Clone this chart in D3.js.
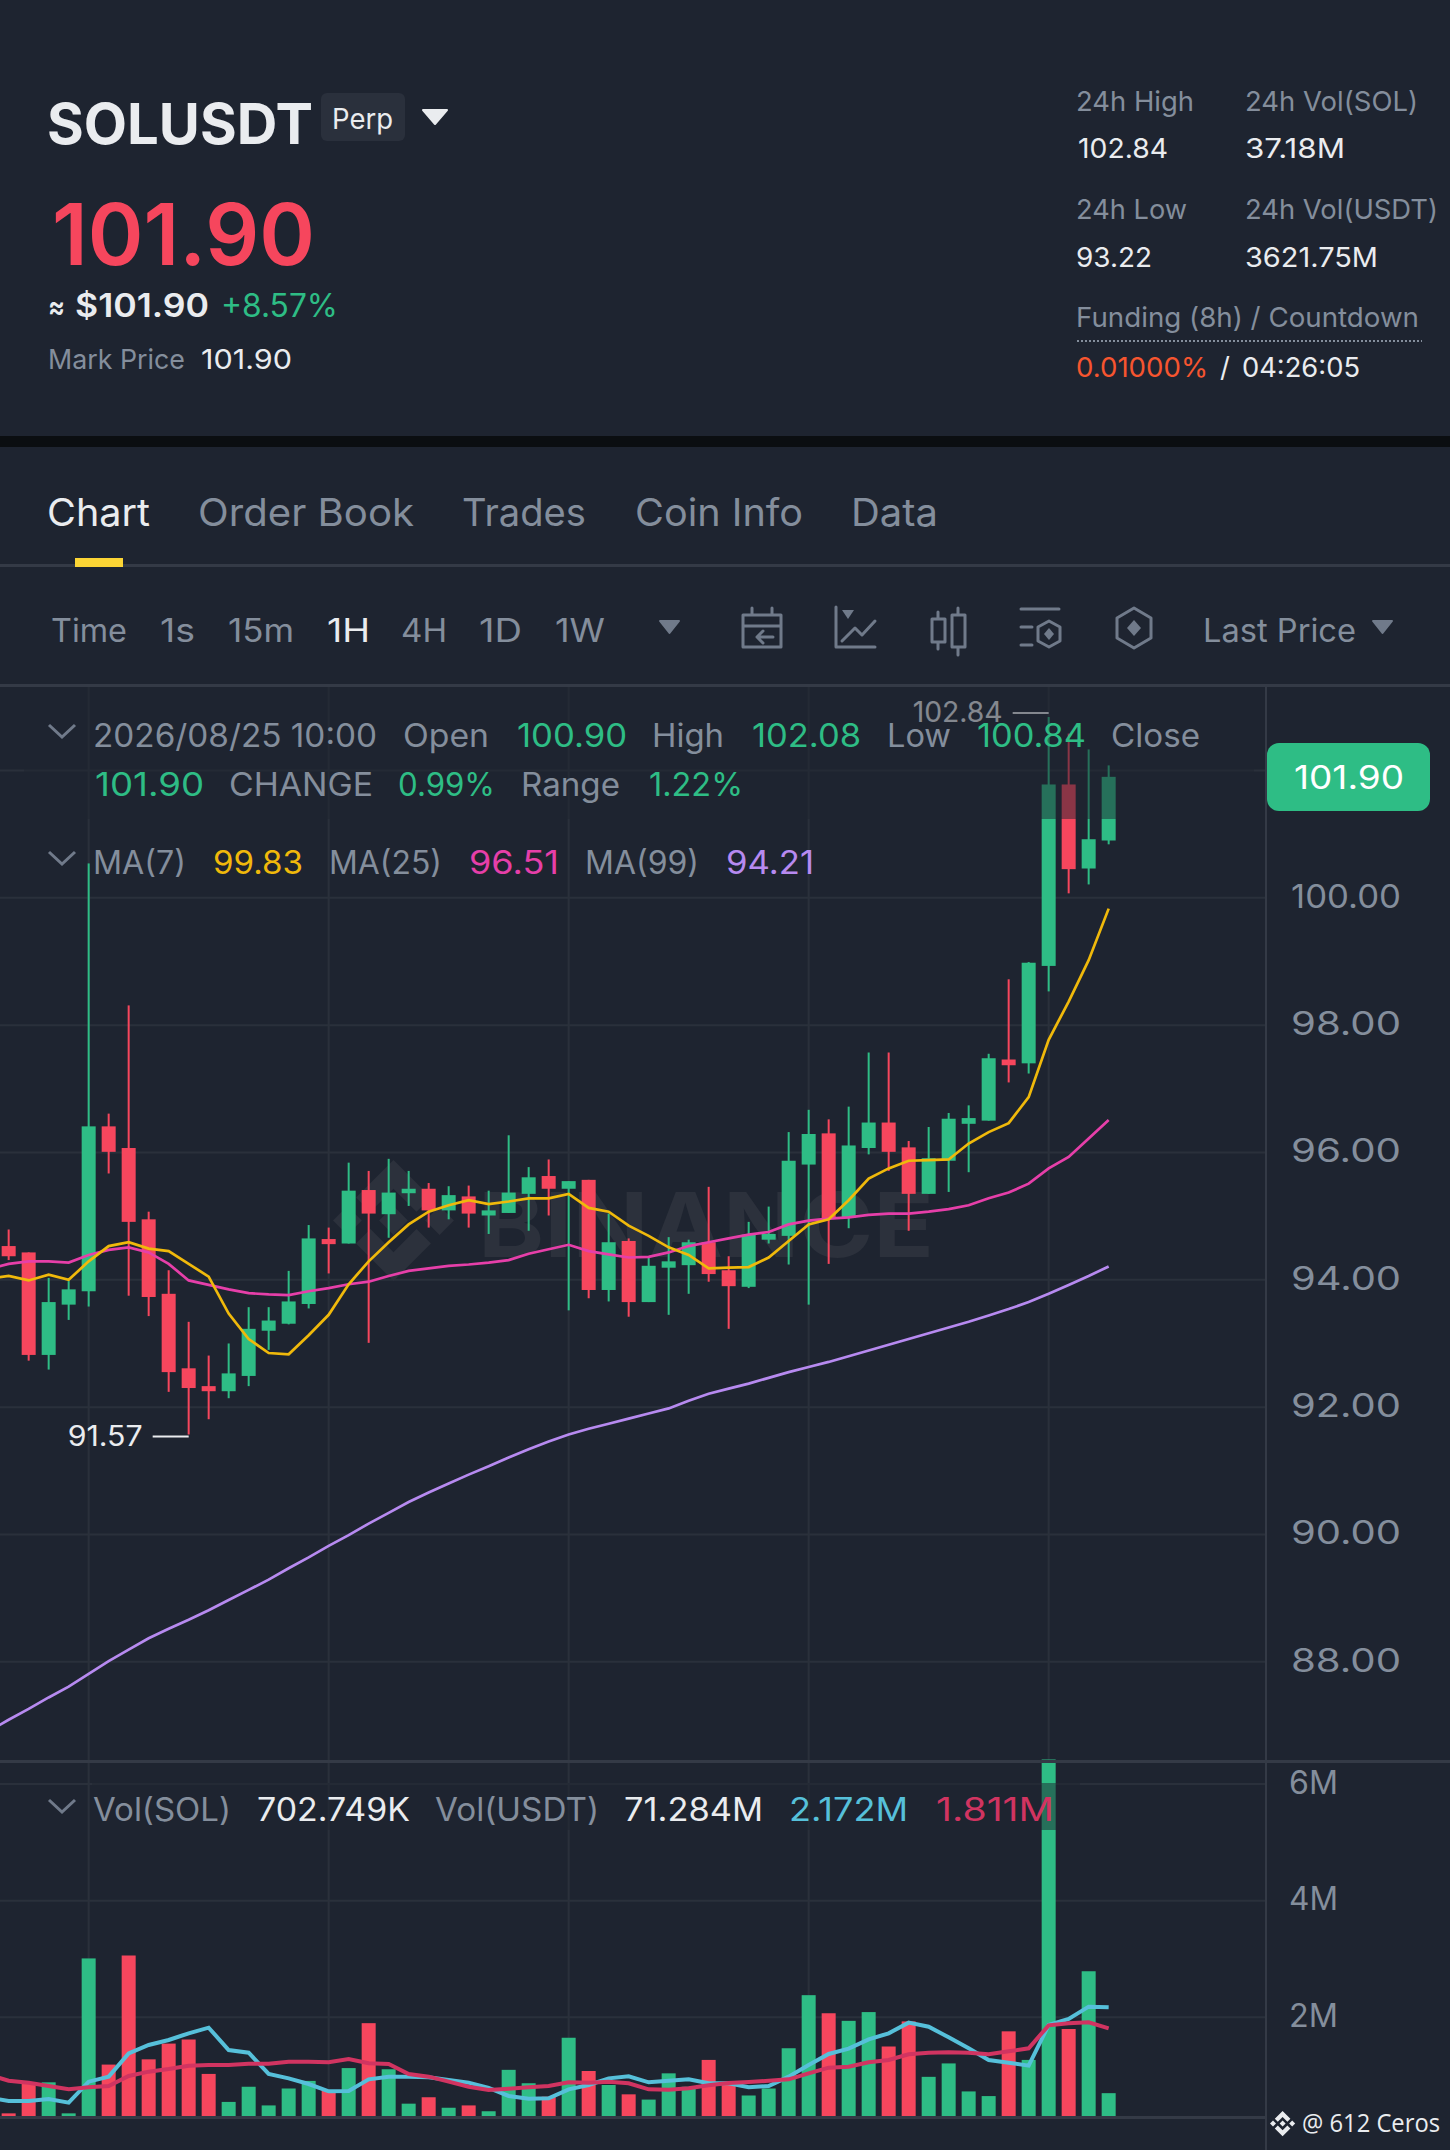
<!DOCTYPE html>
<html>
<head>
<meta charset="utf-8">
<style>
  html, body { margin: 0; padding: 0; background: #1e2430; }
  svg { display: block; font-family: Inter, Lato, sans-serif; }
</style>
<script src="https://cdn.jsdelivr.net/npm/d3@7"></script>
</head>
<body>
<svg width="1450" height="2150"></svg>
<script>
// candles, left to right
const opens = [94.53, 94.43, 92.82, 93.61, 93.82, 96.41, 96.07, 94.95, 93.78, 92.61, 92.33, 92.25, 92.49, 93.20, 93.31, 93.62, 94.64, 94.57, 95.41, 95.03, 95.36, 95.43, 95.09, 95.31, 95.01, 95.05, 95.35, 95.63, 95.43, 95.57, 93.84, 94.61, 93.65, 94.19, 94.23, 94.59, 94.15, 93.89, 94.63, 94.69, 95.81, 96.30, 94.97, 96.07, 96.47, 96.08, 95.35, 95.87, 96.45, 96.50, 97.46, 97.40, 98.93, 101.78, 100.46, 100.90]
const highs = [94.79, 94.43, 94.03, 93.98, 100.54, 96.61, 98.31, 95.07, 94.15, 93.34, 92.81, 93.00, 93.57, 93.57, 94.14, 94.86, 94.82, 95.84, 95.71, 95.90, 95.71, 95.52, 95.47, 95.48, 95.40, 96.27, 95.77, 95.89, 95.55, 95.57, 95.04, 94.65, 94.35, 94.67, 94.63, 95.46, 94.37, 94.91, 95.15, 96.32, 96.67, 96.52, 96.72, 97.57, 97.57, 96.18, 96.40, 96.62, 96.74, 97.55, 98.72, 98.99, 102.84, 102.58, 102.33, 102.08]
const lows = [94.31, 92.73, 92.59, 93.37, 93.58, 95.67, 93.75, 93.43, 92.24, 91.57, 91.81, 92.14, 92.33, 92.90, 93.30, 93.55, 94.10, 94.57, 93.01, 94.66, 95.16, 94.82, 94.95, 94.82, 94.72, 95.05, 94.77, 95.01, 93.52, 93.71, 93.66, 93.42, 93.65, 93.45, 93.78, 93.97, 93.23, 93.87, 94.57, 94.24, 93.61, 94.25, 94.81, 95.97, 95.71, 94.77, 95.35, 95.38, 95.69, 96.50, 97.10, 97.24, 98.53, 100.07, 100.21, 100.84]
const closes = [94.37, 92.82, 93.65, 93.85, 96.41, 96.01, 94.91, 93.73, 92.55, 92.30, 92.25, 92.53, 93.23, 93.36, 93.66, 94.65, 94.56, 95.40, 95.04, 95.37, 95.43, 95.09, 95.33, 95.04, 95.09, 95.37, 95.61, 95.43, 95.55, 93.84, 94.59, 93.65, 94.22, 94.29, 94.59, 94.09, 93.90, 94.71, 94.72, 95.87, 96.29, 94.97, 96.11, 96.47, 96.01, 95.35, 95.91, 96.53, 96.54, 97.48, 97.37, 98.98, 101.78, 100.45, 100.92, 101.90]
const volumes = [0.354, 0.86, 0.886, 0.354, 3.01, 1.19, 3.06, 1.28, 1.55, 1.62, 1.03, 0.55, 0.81, 0.49, 0.78, 0.91, 0.75, 1.13, 1.90, 1.11, 0.52, 0.63, 0.45, 0.49, 0.39, 1.10, 0.87, 0.64, 1.65, 1.08, 0.84, 0.68, 0.59, 1.04, 0.81, 1.27, 0.87, 0.66, 0.78, 1.47, 2.38, 2.07, 1.94, 2.09, 1.50, 1.93, 0.98, 1.21, 0.73, 0.65, 1.76, 1.27, 6.42, 1.80, 2.79, 0.70]

// moving averages start one candle earlier, just off the left edge
const ma7 = [94.02, 94.06, 93.99, 94.08, 94.00, 94.29, 94.53, 94.59, 94.49, 94.45, 94.25, 94.05, 93.47, 93.07, 92.85, 92.83, 93.13, 93.45, 93.93, 94.29, 94.59, 94.87, 95.07, 95.17, 95.25, 95.19, 95.23, 95.28, 95.28, 95.35, 95.13, 95.07, 94.85, 94.69, 94.51, 94.39, 94.18, 94.19, 94.20, 94.35, 94.61, 94.87, 94.95, 95.25, 95.59, 95.75, 95.87, 95.88, 95.89, 96.14, 96.32, 96.46, 96.87, 97.77, 98.37, 99.02, 99.83]
const ma25 = [94.17, 94.25, 94.29, 94.29, 94.27, 94.39, 94.47, 94.51, 94.43, 94.25, 93.99, 93.92, 93.85, 93.79, 93.77, 93.76, 93.82, 93.87, 93.93, 93.97, 94.06, 94.14, 94.18, 94.22, 94.24, 94.27, 94.31, 94.41, 94.48, 94.55, 94.45, 94.40, 94.35, 94.36, 94.43, 94.53, 94.59, 94.65, 94.71, 94.75, 94.87, 94.93, 94.96, 94.98, 95.02, 95.04, 95.04, 95.07, 95.11, 95.17, 95.28, 95.37, 95.51, 95.75, 95.93, 96.22, 96.51]
const ma99 = [86.91, 87.09, 87.26, 87.44, 87.61, 87.81, 88.01, 88.19, 88.37, 88.52, 88.66, 88.81, 88.97, 89.13, 89.29, 89.47, 89.64, 89.82, 89.99, 90.17, 90.34, 90.51, 90.66, 90.80, 90.94, 91.07, 91.21, 91.34, 91.46, 91.57, 91.66, 91.74, 91.82, 91.90, 91.98, 92.10, 92.21, 92.29, 92.37, 92.46, 92.55, 92.63, 92.71, 92.80, 92.89, 92.98, 93.07, 93.16, 93.25, 93.34, 93.44, 93.54, 93.65, 93.78, 93.92, 94.06, 94.21]
const volMaShort = [0.623, 0.566, 0.566, 0.60, 0.537, 0.897, 0.983, 1.383, 1.526, 1.612, 1.726, 1.823, 1.44, 1.394, 1.029, 0.954, 0.857, 0.731, 0.737, 0.937, 0.983, 0.983, 0.971, 0.926, 0.88, 0.789, 0.652, 0.606, 0.611, 0.766, 0.84, 0.954, 0.989, 0.886, 0.914, 0.937, 0.869, 0.869, 0.80, 0.823, 0.983, 1.183, 1.372, 1.463, 1.623, 1.726, 1.909, 1.84, 1.657, 1.469, 1.269, 1.223, 1.172, 1.869, 1.971, 2.183, 2.172]
const volMaLong = [1.017, 0.914, 0.88, 0.823, 0.766, 0.80, 0.823, 0.994, 1.069, 1.114, 1.17, 1.183, 1.183, 1.206, 1.206, 1.24, 1.24, 1.229, 1.286, 1.212, 1.20, 1.029, 0.983, 0.897, 0.811, 0.754, 0.777, 0.80, 0.823, 0.886, 0.88, 0.897, 0.869, 0.766, 0.76, 0.783, 0.834, 0.874, 0.891, 0.914, 0.937, 1.04, 1.137, 1.154, 1.229, 1.269, 1.366, 1.394, 1.40, 1.394, 1.366, 1.417, 1.469, 1.863, 1.897, 1.914, 1.811]

const priceTicks = [88, 90, 92, 94, 96, 98, 100]
const priceGrid = [88, 90, 92, 94, 96, 98, 100, 102]
const volTicks = [2, 4, 6]
const timeGrid = [4, 16, 28, 40, 52]

const BG = '#1e2430', GRID = '#2a303b', LINE = '#343a46'
const UP = '#2ebd85', DOWN = '#f6465d'
const GREY = '#848e9c', WHITE = '#eaecef', ICON = '#707a8a'
const CHART_R = 1265

const x = d3.scaleLinear().domain([0, 55]).range([8.67, 1108.67])
const y = d3.scaleLinear().domain([88, 100]).range([1661.8, 897.8])
const yVol = d3.scaleLinear().domain([0, 6]).range([2134, 1784])

const svg = d3.select('svg')
svg.append('rect').attr('width', 1450).attr('height', 2150).attr('fill', BG)

// text helper, width pins the run to what the picture has
function label(parent, px, py, text, size, fill, width, weight) {
  const t = parent.append('text').attr('x', px - 1).attr('y', py)
    .attr('font-size', size).attr('fill', fill).text(text)
  if (width) t.attr('textLength', width).attr('lengthAdjust', 'spacingAndGlyphs')
  if (weight) t.attr('font-weight', weight)
  return t
}

const tri = (g, x0, y0, w, h, fill) => g.append('path')
  .attr('d', `M${x0} ${y0}h${w}l${-w / 2} ${h}z`)
  .attr('fill', fill).attr('stroke', fill).attr('stroke-width', 2).attr('stroke-linejoin', 'round')

// header
const head = svg.append('g')
label(head, 48, 144, 'SOLUSDT', 56, WHITE, 266, 700)
head.append('rect').attr('x', 321).attr('y', 93).attr('width', 84).attr('height', 48).attr('rx', 6).attr('fill', '#2a303c')
label(head, 333, 129, 'Perp', 28, WHITE, 61)
tri(head, 423, 110, 24, 14, WHITE)
label(head, 53, 265, '101.90', 85, DOWN, 263, 600)
label(head, 49, 317, '≈', 30, WHITE, 17, 600)
label(head, 76, 317, '$101.90', 33, WHITE, 134, 600)
label(head, 222, 317, '+8.57%', 32, UP, 117)
label(head, 49, 369, 'Mark Price', 27.5, GREY, 137)
label(head, 202, 369, '101.90', 27.5, WHITE, 91)

label(head, 1077, 111, '24h High', 27.5, GREY, 118)
label(head, 1246, 111, '24h Vol(SOL)', 27.5, GREY, 173)
label(head, 1079, 158, '102.84', 27.5, WHITE, 90)
label(head, 1246, 158, '37.18M', 27.5, WHITE, 100)
label(head, 1077, 219, '24h Low', 27.5, GREY, 111)
label(head, 1246, 219, '24h Vol(USDT)', 27.5, GREY, 193)
label(head, 1077, 267, '93.22', 27.5, WHITE, 76)
label(head, 1246, 267, '3621.75M', 27.5, WHITE, 133)
label(head, 1077, 327, 'Funding (8h) / Countdown', 27.5, GREY, 343)
head.append('line').attr('x1', 1077).attr('x2', 1422).attr('y1', 341).attr('y2', 341)
  .attr('stroke', GREY).attr('stroke-width', 2).attr('stroke-dasharray', '2 2')
label(head, 1077, 377, '0.01000%', 27.5, '#f6552f', 132)
label(head, 1221, 377, '/', 27.5, WHITE)
label(head, 1243, 377, '04:26:05', 27.5, WHITE, 118)

// band between the header and the tabs
svg.append('rect').attr('y', 436).attr('width', 1450).attr('height', 11).attr('fill', '#0b0e11')

// tabs
const tabs = svg.append('g')
label(tabs, 48, 526, 'Chart', 38, WHITE, 103)
label(tabs, 199, 526, 'Order Book', 38, GREY, 216)
label(tabs, 463, 526, 'Trades', 38, GREY, 124)
label(tabs, 636, 526, 'Coin Info', 38, GREY, 168)
label(tabs, 852, 526, 'Data', 38, GREY, 87)
tabs.append('rect').attr('y', 564).attr('width', 1450).attr('height', 3).attr('fill', LINE)
tabs.append('rect').attr('x', 75).attr('y', 558).attr('width', 48).attr('height', 9).attr('fill', '#fcd535')

// toolbar
const bar = svg.append('g')
label(bar, 52, 642, 'Time', 32, GREY, 76)
label(bar, 161, 642, '1s', 32, GREY, 35)
label(bar, 229, 642, '15m', 32, GREY, 66)
label(bar, 328, 642, '1H', 32, WHITE, 43)
label(bar, 402, 642, '4H', 32, GREY, 46)
label(bar, 480, 642, '1D', 32, GREY, 43)
label(bar, 556, 642, '1W', 32, GREY, 50)
tri(bar, 660, 621, 19, 12, ICON)
label(bar, 1204, 642, 'Last Price', 32, GREY, 153)
tri(bar, 1373, 621, 19, 12, ICON)

const ic = bar.append('g').attr('fill', 'none').attr('stroke', ICON).attr('stroke-width', 3).attr('stroke-linejoin', 'round').attr('stroke-linecap', 'round')
ic.append('path').attr('d', 'M743 615h38v32h-38zM743 626h38M752 608v7M772 608v7M773 637h-16M763 631l-6 6 6 6')
ic.append('path').attr('d', 'M836 607v40h39M842 641l13 -13 7 7 13 -14')
bar.append('path').attr('d', 'M842 610h12l-6 9z').attr('fill', ICON)
ic.append('path').attr('d', 'M932 619h13v23h-13zM938 612v7M938 642v7M952 615h13v32h-13zM958 608v7M958 647v8')
ic.append('path').attr('d', 'M1021 609h38M1021 627h11M1021 645h11M1049 621l11 6v14l-11 6 -11 -6v-14z')
bar.append('path').attr('d', 'M1049 628l5 6 -5 6 -5 -6z').attr('fill', ICON)
ic.append('path').attr('d', 'M1134 608l17 10v20l-17 10 -17 -10v-20z')
bar.append('path').attr('d', 'M1134 620l7 8 -7 8 -7 -8z').attr('fill', ICON)

// grid
const grid = svg.append('g').attr('stroke', GRID).attr('stroke-width', 2)
grid.selectAll('line.h').data(priceGrid).enter().append('line').attr('class', 'h')
  .attr('x1', 0).attr('x2', CHART_R).attr('y1', d => y(d)).attr('y2', d => y(d))
grid.selectAll('line.hv').data(volTicks).enter().append('line').attr('class', 'hv')
  .attr('x1', 0).attr('x2', CHART_R).attr('y1', d => yVol(d)).attr('y2', d => yVol(d))
grid.selectAll('line.v').data(timeGrid).enter().append('line').attr('class', 'v')
  .attr('x1', d => x(d)).attr('x2', d => x(d)).attr('y1', 685).attr('y2', 2117)

// watermark
const wm = svg.append('g').attr('fill', '#2c313c')
const logo = (g, s) => {
  ['M63 48l15 15 -15 15 -15 -15z', 'M15 48l15 15 -15 15 -15 -15z', 'M111 48l15 15 -15 15 -15 -15z',
    'M63 0l39 39 -15 15 -24 -24 -24 24 -15 -15z', 'M63 126l39 -39 -15 -15 -24 24 -24 -24 -15 15z']
    .forEach(d => g.append('path').attr('d', d))
  g.attr('transform', s)
}
logo(wm.append('g'), 'translate(333 1160) scale(0.96)')
label(wm, 479, 1257, 'BINANCE', 90, '#2c313c', 456, 700)

// volume pane, bars are cut off at the bottom of the pane
svg.append('clipPath').attr('id', 'volClip').append('rect')
  .attr('x', 0).attr('y', 1750).attr('width', CHART_R).attr('height', 367)
const volG = svg.append('g').attr('clip-path', 'url(#volClip)')
volG.selectAll('rect.vol').data(volumes).enter().append('rect').attr('class', 'vol')
  .attr('x', (d, i) => x(i) - 7).attr('width', 14)
  .attr('y', d => yVol(d)).attr('height', d => yVol(0) - yVol(d))
  .attr('fill', (d, i) => closes[i] >= opens[i] ? UP : DOWN)

const volLine = d3.line().x((d, i) => x(i - 1)).y(d => yVol(d))
svg.append('path').datum(volMaShort).attr('d', volLine).attr('fill', 'none')
  .attr('stroke', '#56c0da').attr('stroke-width', 4)
svg.append('path').datum(volMaLong).attr('d', volLine).attr('fill', 'none')
  .attr('stroke', '#d13461').attr('stroke-width', 4)

// candles
const candles = svg.append('g').selectAll('g').data(d3.range(opens.length)).enter().append('g')
  .attr('fill', i => closes[i] >= opens[i] ? UP : DOWN)
candles.append('rect').attr('x', i => x(i) - 1).attr('width', 2)
  .attr('y', i => y(highs[i])).attr('height', i => y(lows[i]) - y(highs[i]))
candles.append('rect').attr('x', i => x(i) - 7).attr('width', 14)
  .attr('y', i => y(Math.max(opens[i], closes[i])))
  .attr('height', i => Math.abs(y(opens[i]) - y(closes[i])))

// moving averages
const maLine = d3.line().x((d, i) => x(i - 1)).y(d => y(d))
const maSeries = [[ma99, '#b78af0'], [ma25, '#e63fa9'], [ma7, '#f0b90b']]
maSeries.forEach(([s, c]) => {
  svg.append('path').datum(s).attr('d', maLine).attr('fill', 'none')
    .attr('stroke', c).attr('stroke-width', 2.7)
})

// high and low markers
const hiIdx = d3.maxIndex(highs), loIdx = d3.minIndex(lows)
const marks = svg.append('g')
marks.append('rect').attr('x', x(hiIdx) - 36).attr('y', y(highs[hiIdx]) - 5).attr('width', 36).attr('height', 2).attr('fill', WHITE)
label(marks, x(hiIdx) - 135, y(highs[hiIdx]) + 5, highs[hiIdx].toFixed(2), 28, WHITE, 90)
marks.append('rect').attr('x', x(loIdx) - 36).attr('y', y(lows[loIdx]) + 1).attr('width', 36).attr('height', 2).attr('fill', WHITE)
label(marks, x(loIdx) - 120, y(lows[loIdx]) + 11, lows[loIdx].toFixed(2), 28, WHITE, 75)

// legend backdrops dim whatever runs under them
svg.append('rect').attr('x', 24).attr('y', 687).attr('width', 1230).attr('height', 132).attr('fill', BG).attr('opacity', 0.5)
svg.append('rect').attr('x', 92).attr('y', 1783).attr('width', 988).attr('height', 47).attr('fill', BG).attr('opacity', 0.5)

// pane borders
const frame = svg.append('g').attr('fill', LINE)
frame.append('rect').attr('y', 684).attr('width', 1450).attr('height', 3)
frame.append('rect').attr('y', 1760).attr('width', 1450).attr('height', 3)
frame.append('rect').attr('y', 2116).attr('width', CHART_R).attr('height', 3)
frame.append('rect').attr('x', CHART_R).attr('y', 687).attr('width', 2).attr('height', 1463)

// axes
const fmtPrice = d3.format('.2f')
const yAxis = svg.append('g').attr('transform', `translate(${CHART_R + 10},0)`)
  .call(d3.axisRight(y).tickValues(priceTicks).tickSize(0).tickPadding(16).tickFormat(fmtPrice))
const volAxis = svg.append('g').attr('transform', `translate(${CHART_R + 10},0)`)
  .call(d3.axisRight(yVol).tickValues(volTicks).tickSize(0).tickPadding(14).tickFormat(d => d + 'M'))
;[yAxis, volAxis].forEach(a => {
  a.select('.domain').remove()
  a.selectAll('text').attr('fill', GREY).attr('font-size', 32).attr('font-family', 'Inter').attr('dy', '0.29em')
})
yAxis.selectAll('text').attr('textLength', 110).attr('lengthAdjust', 'spacingAndGlyphs')
volAxis.selectAll('text').attr('textLength', 49).attr('lengthAdjust', 'spacingAndGlyphs')

// last price tag
svg.append('rect').attr('x', 1267).attr('y', 743).attr('width', 163).attr('height', 68).attr('rx', 12).attr('fill', UP)
label(svg, 1295, 789, fmtPrice(closes[closes.length - 1]), 32, '#fff', 110)

// legends
const chev = (cy) => svg.append('path').attr('d', `M49 ${cy - 6}l13 12 13 -12`).attr('fill', 'none').attr('stroke', ICON).attr('stroke-width', 3)
chev(731); chev(858); chev(1806)
const leg = svg.append('g')
label(leg, 94, 747, '2026/08/25 10:00', 32, GREY, 284)
label(leg, 404, 747, 'Open', 32, GREY, 86)
label(leg, 518, 747, '100.90', 32, UP, 110)
label(leg, 653, 747, 'High', 32, GREY, 72)
label(leg, 753, 747, '102.08', 32, UP, 109)
label(leg, 888, 747, 'Low', 32, GREY, 64)
label(leg, 978, 747, '100.84', 32, UP, 109)
label(leg, 1112, 747, 'Close', 32, GREY, 89)
label(leg, 96, 796, '101.90', 32, UP, 109)
label(leg, 230, 796, 'CHANGE', 32, GREY, 144)
label(leg, 399, 796, '0.99%', 32, UP, 97)
label(leg, 522, 796, 'Range', 32, GREY, 99)
label(leg, 650, 796, '1.22%', 32, UP, 94)
label(leg, 94, 874, 'MA(7)', 32, GREY, 93)
label(leg, 214, 874, '99.83', 32, '#f0b90b', 90)
label(leg, 330, 874, 'MA(25)', 32, GREY, 113)
label(leg, 470, 874, '96.51', 32, '#e63fa9', 90)
label(leg, 586, 874, 'MA(99)', 32, GREY, 114)
label(leg, 727, 874, '94.21', 32, '#b78af0', 88)
label(leg, 94, 1821, 'Vol(SOL)', 32, GREY, 138)
label(leg, 258, 1821, '702.749K', 32, WHITE, 153)
label(leg, 436, 1821, 'Vol(USDT)', 32, GREY, 164)
label(leg, 625, 1821, '71.284M', 32, WHITE, 139)
label(leg, 790, 1821, '2.172M', 32, '#56c0da', 119)
label(leg, 937, 1821, '1.811M', 32, '#d13461', 118)

// signature bottom right
logo(svg.append('g').attr('fill', WHITE), 'translate(1270 2111) scale(0.2)')
label(svg, 1303, 2132, '@ 612 Ceros', 25, WHITE, 138).attr('font-family', '"Open Sans"')
</script>
</body>
</html>
